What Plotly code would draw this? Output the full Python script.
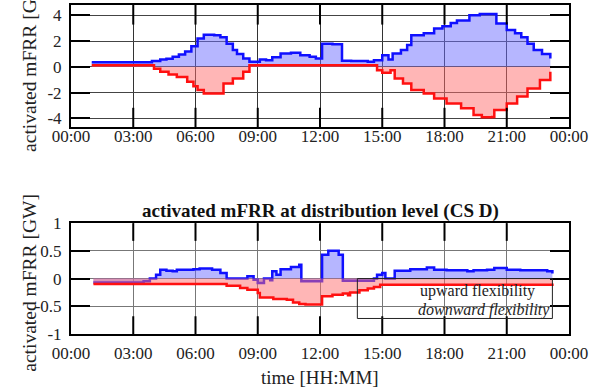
import plotly.graph_objects as go
from plotly.subplots import make_subplots

# ---------------- data ----------------
tick_vals = [0, 3, 6, 9, 12, 15, 18, 21, 24]
tick_text = ["00:00", "03:00", "06:00", "09:00", "12:00", "15:00", "18:00", "21:00", "00:00"]

# top chart (transmission level) - hours / GW
top_up_t = [1.0, 3.65, 3.9, 4.3, 4.6, 4.9, 5.2, 5.5, 5.8, 6.1, 6.4, 6.9, 7.2, 7.5, 7.8, 8.0, 8.3, 8.6,
            9.1, 9.4, 9.7, 10.1, 10.6, 11.05, 11.5, 11.8, 12.1, 12.6, 13.06, 13.5, 14.3, 14.6, 15.0,
            15.3, 15.5, 15.9, 16.2, 16.4, 17.0, 17.5, 17.9, 18.3, 18.6, 19.2, 19.7, 20.3, 20.5, 21.0,
            21.4, 21.7, 22.0, 22.3, 22.7, 23.1]
top_up_v = [0.35, 0.35, 0.45, 0.57, 0.62, 0.78, 0.95, 1.2, 1.6, 2.2, 2.5, 2.45, 2.3, 1.8, 1.3, 1.0, 0.65, 0.39,
            0.57, 0.52, 0.75, 1.04, 1.1, 0.9, 0.78, 0.65, 1.8, 1.75, 0.47, 0.45, 0.39, 0.52, 0.9,
            0.57, 1.04, 1.3, 1.7, 2.46, 2.6, 2.98, 3.15, 3.4, 3.6, 4.0, 4.1, 4.1, 3.36, 2.85,
            2.6, 2.3, 1.8, 1.3, 1.0, 0.65]
top_dn_t = [1.0, 3.65, 4.0, 4.3, 4.7, 5.1, 5.6, 5.9, 6.1, 6.4, 7.2, 7.35, 7.8, 8.3, 8.6, 14.5, 14.75,
            15.0, 15.4, 15.6, 16.0, 16.4, 17.0, 17.5, 18.1, 18.8, 19.4, 19.8, 20.3, 20.4, 21.0, 21.5,
            22.0, 22.6, 23.1]
top_dn_v = [0.12, 0.12, -0.15, -0.39, -0.6, -0.78, -1.16, -1.5, -1.8, -2.06, -2.06, -1.29, -0.9, -0.39, 0.13,
            0.13, -0.26, -0.46, -0.26, -0.9, -1.3, -1.8, -2.06, -2.45, -2.84, -3.22, -3.74, -3.92, -3.9,
            -3.36, -2.84, -2.3, -1.68, -1.03, -0.39]

# bottom chart (distribution level)
bot_up_t = [1.08, 3.5, 3.8, 4.1, 4.3, 4.6, 4.9, 5.1, 5.9, 6.2, 6.8, 7.2, 7.5, 8.15, 8.5, 8.8, 9.0, 9.3, 9.6,
            9.7, 9.9, 10.1, 10.6, 11.0, 11.1, 12.1, 12.4, 12.9, 13.1, 14.6, 14.75, 15.0, 15.15, 15.6,
            16.35, 17.15, 17.5, 18.1, 19.1, 19.4, 20.05, 20.4, 21.0, 21.65, 22.3, 22.95, 23.2]
bot_up_v = [-0.07, -0.05, 0.0, 0.07, 0.16, 0.14, 0.13, 0.16, 0.17, 0.18, 0.16, 0.1, 0.0, 0.0, 0.04, -0.02,
            -0.08, 0.0, -0.03, 0.13, 0.07, 0.17, 0.21, 0.25, -0.05, 0.43, 0.5, 0.43, -0.04, 0.0, 0.07,
            0.1, 0.0, 0.14, 0.17, 0.2, 0.16, 0.15, 0.13, 0.15, 0.16, 0.19, 0.16, 0.15, 0.15, 0.13, 0.09]
bot_dn_t = [1.08, 6.7, 7.5, 8.15, 8.5, 9.0, 9.1, 9.75, 10.4, 10.7, 11.0, 11.3, 12.1, 12.6, 13.1, 13.35,
            13.45, 13.9, 14.3, 14.6, 14.9, 23.2]
bot_dn_v = [-0.1, -0.1, -0.13, -0.17, -0.2, -0.26, -0.34, -0.37, -0.38, -0.43, -0.46, -0.47, -0.32, -0.29,
            -0.27, -0.3, -0.25, -0.21, -0.18, -0.15, -0.11, -0.09]

# ---------------- figure ----------------
FONT = "Times New Roman, Liberation Serif, serif"
BLUE, BLUE_F = "#1010ff", "rgba(110,110,255,0.5)"
RED, RED_F = "#ff1010", "rgba(255,110,110,0.5)"

fig = make_subplots(rows=2, cols=1)


def add_pair(t_up, v_up, t_dn, v_dn, row):
    fig.add_trace(go.Scatter(x=t_up, y=v_up, mode="lines", line=dict(color=BLUE, width=2.5, shape="hv"),
                             fill="tozeroy", fillcolor=BLUE_F, name="upward flexibility",
                             showlegend=False), row=row, col=1)
    fig.add_trace(go.Scatter(x=t_dn, y=v_dn, mode="lines", line=dict(color=RED, width=2.5, shape="hv"),
                             fill="tozeroy", fillcolor=RED_F, name="downward flexibility",
                             showlegend=False), row=row, col=1)


add_pair(top_up_t, top_up_v, top_dn_t, top_dn_v, 1)
add_pair(bot_up_t, bot_up_v, bot_dn_t, bot_dn_v, 2)

common = dict(showline=True, linecolor="black", linewidth=2, automargin=False,
              showgrid=True, gridwidth=1, tickfont=dict(family=FONT, size=17, color="#222"))

fig.update_xaxes(range=[0, 24], tickvals=tick_vals, ticktext=tick_text, zeroline=False,
                 mirror=True, ticks="", **common)
fig.update_xaxes(row=1, col=1, gridcolor="#333333", ticklabelstandoff=-8)
fig.update_xaxes(row=2, col=1, gridcolor="#777777", ticklabelstandoff=3)
fig.update_yaxes(zeroline=False, mirror="ticks", ticks="inside", ticklen=19, tickwidth=2, tickcolor="black",
                 **common)
fig.update_yaxes(row=1, col=1, range=[-4.7, 4.8], tickvals=[-4, -2, 0, 2, 4], gridcolor="#444444",
                 ticktext=["-4", "-2", "0", "2", "4"], ticklabelstandoff=4)
fig.update_yaxes(row=2, col=1, range=[-1, 1], tickvals=[-1, -0.5, 0, 0.5, 1], gridcolor="#777777",
                 ticktext=["-1", "-0.5", "0", "0.5", "1"], ticklabelstandoff=4)

fig.update_layout(
    width=603, height=388,
    margin=dict(l=71, r=34, t=5, b=54),
    paper_bgcolor="white", plot_bgcolor="white",
    showlegend=False,
    yaxis=dict(domain=[0.628, 1.0]),
    yaxis2=dict(domain=[0.0, 0.337]),
)

# inside tick marks on the time axes (top and bottom edge of each panel)
for xr, yr in (("x", "y domain"), ("x2", "y2 domain")):
    for tv in tick_vals[1:-1]:
        for y0, y1 in ((0.0, 0.16), (0.84, 1.0)):
            fig.add_shape(type="line", xref=xr, yref=yr, x0=tv, x1=tv, y0=y0, y1=y1,
                          line=dict(color="black", width=2))

title_font = dict(family=FONT, size=19.5, color="#222")
# axis titles
fig.add_annotation(text="activated mFRR [GW]", xref="paper", yref="paper", x=-0.0823, y=0.824,
                   textangle=-90, xanchor="center", yanchor="middle", showarrow=False, font=title_font)
fig.add_annotation(text="activated mFRR [GW]", xref="paper", yref="paper", x=-0.0823, y=0.156,
                   textangle=-90, xanchor="center", yanchor="middle", showarrow=False, font=title_font)
fig.add_annotation(text="time [HH:MM]", xref="paper", yref="paper", x=0.5, y=-0.133,
                   xanchor="center", yanchor="middle", showarrow=False,
                   font=dict(family=FONT, size=19, color="#222"))

# bottom title
fig.add_annotation(text="<b>activated mFRR at distribution level (CS D)</b>", xref="paper", yref="paper",
                   x=0.5, y=0.375, xanchor="center", yanchor="middle", showarrow=False,
                   font=dict(family=FONT, size=19, color="#111"))

# legend box (bottom chart)
fig.add_shape(type="rect", xref="x2", yref="y2", x0=13.8, x1=23.2, y0=-0.72, y1=0.0,
              line=dict(color="#222", width=1), fillcolor="rgba(0,0,0,0)")
fig.add_annotation(text="upward flexibility", xref="x2", yref="y2", x=16.7, y=-0.23,
                   xanchor="left", yanchor="middle", showarrow=False,
                   font=dict(family=FONT, size=16, color="#222"))
fig.add_annotation(text="<i>downward flexibility</i>", xref="x2", yref="y2", x=16.65, y=-0.56,
                   xanchor="left", yanchor="middle", showarrow=False,
                   font=dict(family=FONT, size=16, color="#222"))

fig.write_html("out.html", config={"displayModeBar": False},
               post_script="document.body.style.margin='0';document.body.style.overflow='hidden';")
